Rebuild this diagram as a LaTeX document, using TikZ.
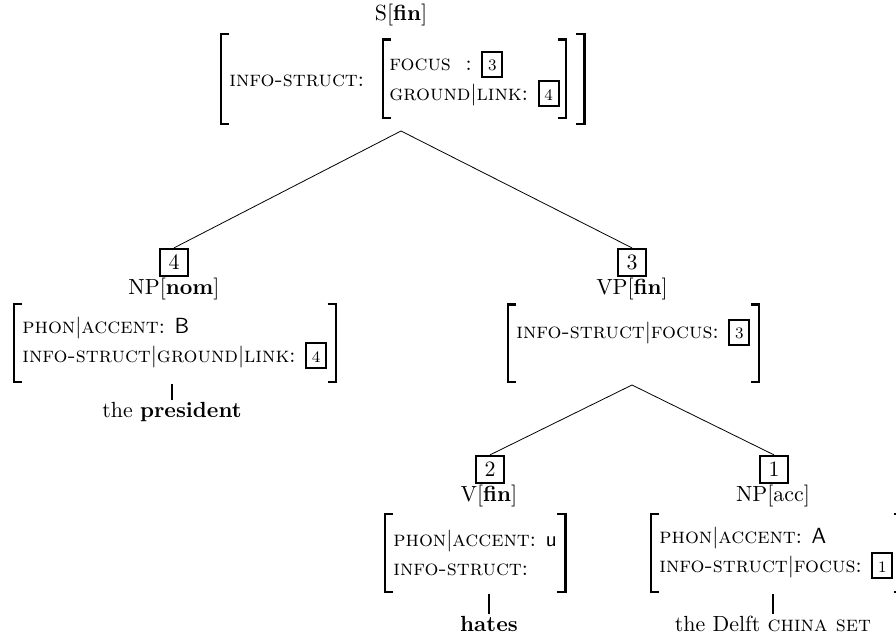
\documentclass[11pt,tikz,border=0pt]{standalone}
\usepackage{tikz}
\usetikzlibrary{positioning,fit}

\newcommand{\tagbox}[1]{{\setlength{\fboxrule}{1pt}\setlength{\fboxsep}{2.5pt}\fbox{\makebox[4pt]{\rule{0pt}{6.5pt}\scriptsize #1}}}}
\newcommand{\avmbrackets}[1]{%
  \draw[bracket] ([xshift=4pt]#1.north west) -| (#1.south west) -- ++(4pt,0);
  \draw[bracket] ([xshift=-4pt]#1.north east) -| (#1.south east) -- ++(-4pt,0);}

\begin{document}
\begin{tikzpicture}[x=0.5pt, y=-0.5pt]
  % Focus/ground feature tree
  \tikzstyle{cat} = [inner sep=0pt, anchor=base]
  \tikzstyle{tag} = [draw, line width=1.1pt, minimum width=14pt, minimum height=13.5pt, inner sep=0pt]
  \tikzstyle{avm} = [anchor=west, align=left, inner xsep=4pt, inner ysep=0pt, minimum height=38.5pt]
  \tikzstyle{bracket} = [line width=1.1pt]
  \tikzstyle{branch} = [line width=0.4pt]
  \tikzstyle{stem} = [line width=0.9pt, shorten <=1pt, shorten >=1pt]
  \tikzstyle{word} = [inner sep=0pt, anchor=base]

  \useasboundingbox (0,0) rectangle (896,636);

  % Root
  \node[cat] (scat) at (401,21) {S[\textbf{fin}]};
  \node[avm, minimum height=0pt] (sinfo) at (221,81) {\textsc{info-struct}:};
  \node[avm, minimum height=39pt, inner xsep=3pt] (savm) at (383,79) {\textsc{focus}\ \ : \tagbox{3}\\\textsc{ground}$|$\textsc{link}: \tagbox{4}};
  \coordinate (sright) at ([xshift=9pt]savm.east);
  \node[fit={(sinfo) (savm) (sright)}, inner xsep=0pt, inner ysep=2.5pt] (sframe) {};
  \avmbrackets{sframe}
  \avmbrackets{savm}
  \coordinate (stop) at (401,131);

  % Subject
  \node[tag] (tag4) at (174,262.5) {4};
  \node[cat] (npnom) at (174,295) {NP[\textbf{nom}]};
  \node[avm] (npnomavm) at (14,343) {\textsc{phon}$|$\textsc{accent}: \textsf{B}\\[1pt]\textsc{info-struct}$|$\textsc{ground}$|$\textsc{link}: \tagbox{4}};
  \avmbrackets{npnomavm}
  \node[word] (pres) at (172,418) {the \textbf{president}};

  % Verb phrase
  \node[tag] (tag3) at (632,262.5) {3};
  \node[cat] (vp) at (632,295) {VP[\textbf{fin}]};
  \node[avm] (vpavm) at (508,343.5) {\textsc{info-struct}$|$\textsc{focus}: \tagbox{3}\\[1pt]\mbox{}};
  \avmbrackets{vpavm}
  \coordinate (vptop) at (632,385);

  % Verb
  \node[tag] (tag2) at (490,469.5) {2};
  \node[cat] (v) at (489,502) {V[\textbf{fin}]};
  \node[avm] (vavm) at (385,553) {\textsc{phon}$|$\textsc{accent}: \textsf{u}\\[1pt]\textsc{info-struct}:};
  \avmbrackets{vavm}
  \node[word] (hates) at (489,632) {\textbf{hates}};

  % Object
  \node[tag] (tag1) at (774,469.5) {1};
  \node[cat] (npacc) at (773,502) {NP[acc]};
  \node[avm] (npaccavm) at (651,553) {\textsc{phon}$|$\textsc{accent}: \textsf{A}\\[1pt]\textsc{info-struct}$|$\textsc{focus}: \tagbox{1}};
  \avmbrackets{npaccavm}
  \node[word] (delft) at (773,632) {the Delft \textsc{china set}};

  % Branches
  \draw[branch] (stop) -- (tag4.north);
  \draw[branch] (stop) -- (tag3.north);
  \draw[branch] (vptop) -- (tag2.north);
  \draw[branch] (vptop) -- (tag1.north);
  \draw[stem] (pres.north) -- (pres.north |- npnomavm.south);
  \draw[stem] (hates.north) -- (hates.north |- vavm.south);
  \draw[stem] (delft.north) -- (delft.north |- npaccavm.south);
\end{tikzpicture}
\end{document}
